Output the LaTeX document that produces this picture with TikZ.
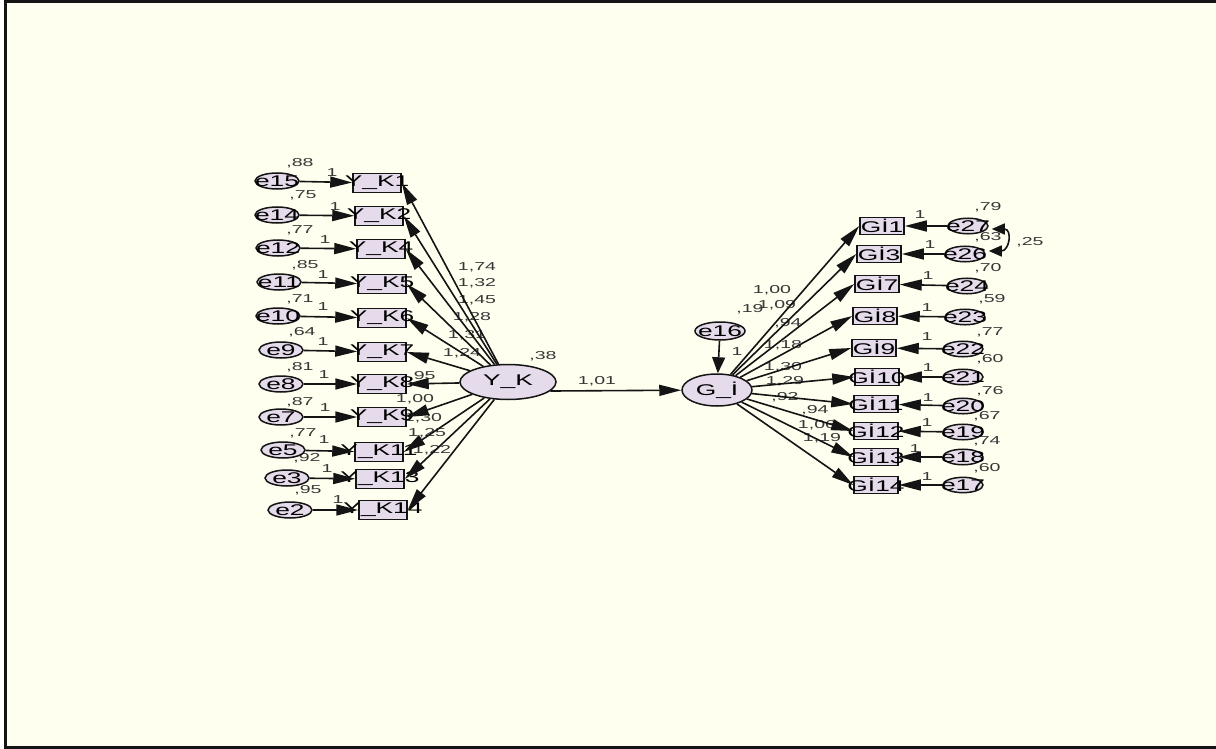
\documentclass[tikz,border=0pt]{standalone}
\usepackage{fontspec}
\setmainfont{Liberation Sans}
\newfontfamily\amos[FakeStretch=1.7]{Liberation Sans}
\usetikzlibrary{arrows.meta,shapes.geometric}
\definecolor{paper}{RGB}{255,255,240}
\definecolor{lav}{RGB}{230,219,235}
\definecolor{ink}{RGB}{20,20,20}
\begin{document}
\begin{tikzpicture}[x=1pt,y=-1pt,
  big/.style={font=\amos\fontsize{15.5}{17}\selectfont},
  obs/.style={draw=ink,fill=lav,line width=1.5pt,minimum width=48pt,minimum height=19pt,inner sep=0pt,big},
  obsr/.style={obs,minimum width=44pt,minimum height=17pt},
  err/.style={draw=ink,ellipse,fill=lav,line width=1.5pt,minimum width=44pt,minimum height=16pt,inner sep=0pt,big},
  errr/.style={err,minimum width=40pt,minimum height=15pt},
  lat/.style={draw=ink,ellipse,fill=lav,line width=1.5pt,inner sep=0pt,big},
  reg/.style={line width=1.6pt,draw=ink,-{Triangle[length=22pt,width=11pt]}},
  cov/.style={line width=1.6pt,draw=ink,{Triangle[length=13pt,width=11pt]}-{Triangle[length=13pt,width=11pt]}},
  num/.style={font=\amos\fontsize{11.5}{13}\selectfont,text=ink!85,inner sep=0pt},
]
% page and frame
\fill[white] (0,0) rectangle (1216,749);
\fill[paper] (5,1.5) rectangle (1216,747);
\useasboundingbox (0,0) rectangle (1216,749);
\draw[line width=3pt,draw=ink] (1216,1.5) -- (5.5,1.5) -- (5.5,747.5) -- (1216,747.5);

% coefficient labels
\foreach \x/\y/\t [count=\i] in {
  300/163/{,88}, 303/195/{,75}, 300/230/{,77}, 305/265/{,85}, 300/299/{,71}, 302/332/{,64},
  300/367/{,81}, 300/402/{,87}, 303/433/{,77}, 307/458/{,92}, 308/490/{,95},
  332/173/1, 335/207/1, 325/240/1, 323/275/1, 323/307/1, 323/342/1, 324/375/1, 325/408/1,
  324/440/1, 327/469/1, 338/500/1,
  477/267/{1,74}, 477/283/{1,32}, 477/300/{1,45}, 472/317/{1,28}, 467/335/{1,31}, 462/353/{1,24},
  422/376/{,95}, 415/399/{1,00}, 423/418/{1,30}, 427/433/{1,25}, 432/450/{1,22},
  543/356/{,38}, 597/381/{1,01},
  772/290/{1,00}, 777/305/{1,09}, 750/309/{,19}, 788/323/{,94}, 783/345/{1,18}, 783/367/{1,30},
  785/381/{1,29}, 785/397/{,92}, 815/410/{,94}, 817/425/{1,06}, 822/438/{1,19}, 737/352/1,
  920/215/1, 930/245/1, 928/276/1, 927/308/1, 927/337/1, 928/368/1, 928/398/1, 927/423/1,
  915/449/1, 927/477/1,
  988/207/{,79}, 988/237/{,63}, 1030/242/{,25}, 988/268/{,70}, 992/299/{,59}, 990/332/{,77},
  990/359/{,60}, 990/391/{,76}, 987/416/{,67}, 987/441/{,74}, 987/468/{,60}}
  {\node[num] (lab\i) at (\x,\y) {\t};}

% latent variables
\node[lat,minimum width=96pt,minimum height=35pt] (yk) at (508,382) {\makebox[0pt]{Y\_K}};
\node[lat,minimum width=70pt,minimum height=32pt] (gi) at (717,390) {\makebox[0pt]{G\_İ}};
\node[lat,minimum width=50pt,minimum height=18pt] (e16) at (720,331) {\makebox[0pt]{e16}};

% Y_K indicators and their errors
\foreach \n/\bx/\by/\lab/\ex/\ey/\elab in {
  k1/377/183/Y\_K1/277/181/e15, k2/379/216/Y\_K2/277/215/e14, k4/381/249/Y\_K4/278/248/e12,
  k5/382/284/Y\_K5/279/282/e11, k6/382/318/Y\_K6/278/316/e10, k7/382/352/Y\_K7/281/350/e9,
  k8/382/384/Y\_K8/281/384/e8, k9/382/417/Y\_K9/281/417/e7, k11/379/452/Y\_K11/283/450/e5,
  k13/380/479/Y\_K13/287/478/e3, k14/383/510/Y\_K14/290/510/e2}
  {\node[obs] (\n) at (\bx,\by) {\makebox[0pt]{\lab}};
   \node[err] (e\n) at (\ex,\ey) {\makebox[0pt]{\elab}};}

% G_I indicators and their errors
\foreach \n/\bx/\by/\lab/\ex/\ey/\elab in {
  g1/882/226/Gİ1/968/226/e27, g3/879/254/Gİ3/965/254/e26, g7/877/284/Gİ7/967/286/e24,
  g8/875/316/Gİ8/965/317/e23, g9/874/348/Gİ9/963/349/e22, g10/877/377/Gİ10/963/377/e21,
  g11/876/404/Gİ11/963/406/e20, g12/876/431/Gİ12/963/432/e19, g13/876/457/Gİ13/963/457/e18,
  g14/876/485/Gİ14/963/485/e17}
  {\node[obsr] (\n) at (\bx,\by) {\makebox[0pt]{\lab}};
   \node[errr] (e\n) at (\ex,\ey) {\makebox[0pt]{\elab}};}

% paths
\foreach \n in {k1,k2,k4,k5,k6,k7,k8,k9,k11,k13,k14}
  {\draw[reg] (e\n) -- (\n); \draw[reg] (yk) -- (\n.east);}
\foreach \n in {g1,g3,g7,g8,g9,g10,g11,g12,g13,g14}
  {\draw[reg] (e\n) -- (\n); \draw[reg] (gi) -- (\n.west);}
\draw[reg] (yk.-12) -- (gi);
\draw[line width=1.6pt,draw=ink,-{Triangle[length=16pt,width=13pt]}] (e16) -- (gi);
% covariance between e27 and e26
\draw[cov] ([xshift=3pt,yshift=-3pt]eg1.east) to[out=0,in=0,looseness=2.4] ([xshift=3pt,yshift=3pt]eg3.east);
\end{tikzpicture}
\end{document}
